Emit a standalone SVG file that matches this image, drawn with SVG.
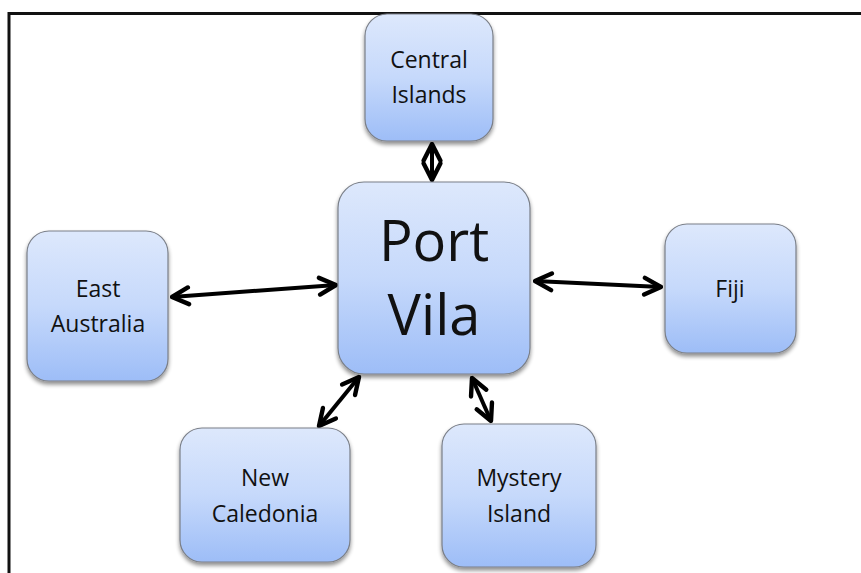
<svg xmlns="http://www.w3.org/2000/svg" width="861" height="573" viewBox="0 0 861 573">
<defs>
<linearGradient id="g" x1="0" y1="0" x2="0" y2="1">
<stop offset="0" stop-color="#dde8fc"/>
<stop offset="0.5" stop-color="#c6d9fb"/>
<stop offset="1" stop-color="#9dbdf7"/>
</linearGradient>
<filter id="sh" x="-20%" y="-20%" width="140%" height="150%">
<feGaussianBlur in="SourceAlpha" stdDeviation="2"/>
<feOffset dx="0" dy="3" result="b"/>
<feComponentTransfer><feFuncA type="linear" slope="0.45"/></feComponentTransfer>
<feMerge><feMergeNode/><feMergeNode in="SourceGraphic"/></feMerge>
</filter>
<marker id="ah" viewBox="0 0 10 10" refX="9" refY="5" markerWidth="5.5" markerHeight="5.5" orient="auto-start-reverse" markerUnits="strokeWidth">
<path d="M1.5,1.2 L9,5 L1.5,8.8" fill="none" stroke="#000" stroke-width="2" stroke-linecap="round" stroke-linejoin="round"/>
</marker>
</defs>
<style>
.box{fill:url(#g);stroke:#7a7f88;stroke-width:1.2;filter:url(#sh)}
.t{font-family:"Open Sans","Noto Sans",sans-serif;font-size:23px;fill:#111;text-anchor:middle}
.big{font-size:56px}
.c{stroke:#000;stroke-width:4;fill:none;marker-start:url(#ah);marker-end:url(#ah)}
</style>
<rect x="0" y="0" width="861" height="573" fill="#fff"/>
<path d="M9,573 L9,13.5 L861,13.5" fill="none" stroke="#111" stroke-width="3"/>
<g id="connectors">
<line class="c" x1="432" y1="144" x2="432" y2="180"/>
<line class="c" x1="172" y1="297" x2="336" y2="285"/>
<line class="c" x1="535" y1="281" x2="661" y2="287"/>
<line class="c" x1="319" y1="426" x2="359" y2="377"/>
<line class="c" x1="472" y1="378" x2="491" y2="421"/>
</g>
<g id="central">
<rect class="box" x="365" y="14" width="128" height="127" rx="22"/>
<text class="t" x="429" y="68">Central</text>
<text class="t" x="429" y="103">Islands</text>
</g>
<g id="portvila">
<rect class="box" x="338" y="182" width="192" height="192" rx="26"/>
<text class="t big" x="434" y="261">Port</text>
<text class="t big" x="434" y="335">Vila</text>
</g>
<g id="eastaustralia">
<rect class="box" x="27" y="231" width="141" height="150" rx="22"/>
<text class="t" x="98" y="297">East</text>
<text class="t" x="98" y="332">Australia</text>
</g>
<g id="fiji">
<rect class="box" x="665" y="224" width="131" height="129" rx="22"/>
<text class="t" x="730" y="297">Fiji</text>
</g>
<g id="newcaledonia">
<rect class="box" x="180" y="428" width="170" height="134" rx="22"/>
<text class="t" x="265" y="486">New</text>
<text class="t" x="265" y="522">Caledonia</text>
</g>
<g id="mystery">
<rect class="box" x="442" y="424" width="154" height="143" rx="22"/>
<text class="t" x="519" y="486">Mystery</text>
<text class="t" x="519" y="522">Island</text>
</g>
</svg>
